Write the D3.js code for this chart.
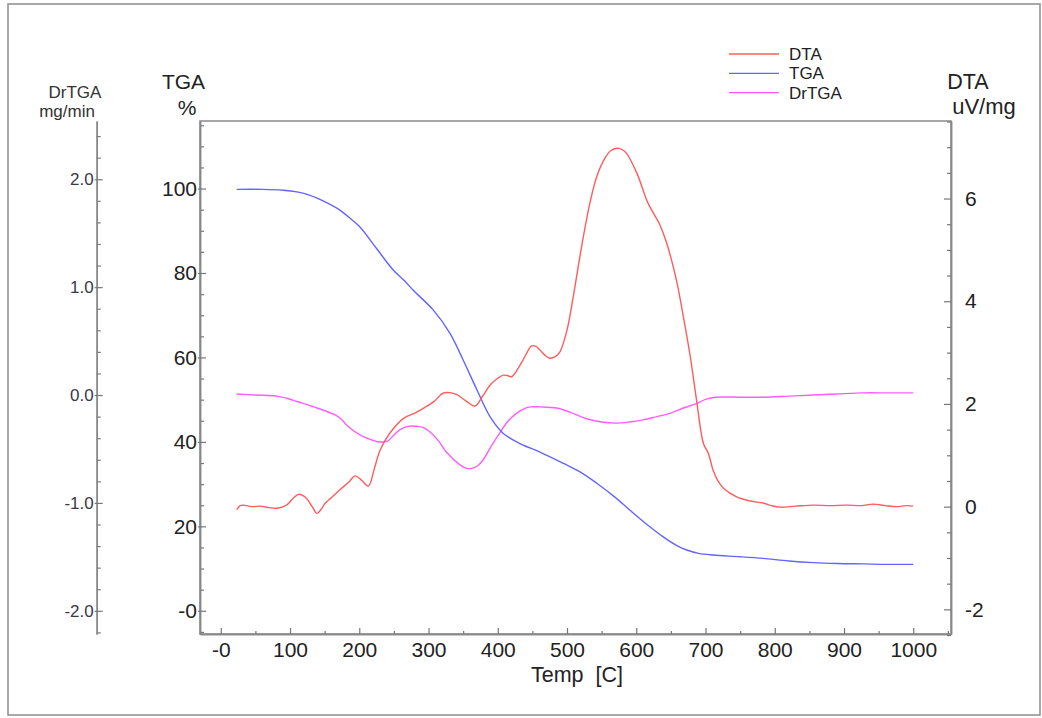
<!DOCTYPE html>
<html>
<head>
<meta charset="utf-8">
<script src="https://cdnjs.cloudflare.com/ajax/libs/d3/7.8.5/d3.min.js"></script>
<style>
    body { margin: 0; background: #fff; }
    text { font-family: 'Liberation Sans', Arial, sans-serif; }
</style>
</head>
<body>
<script>
// Thermal analysis readings, [temp C, value]
const dtaData = [
    [23, -0.06], [28, 0.02], [33, 0.03], [45, 0.0], [57, 0.01], [70, -0.02], [81, -0.03],
    [95, 0.03], [105, 0.17], [112, 0.24], [118, 0.22], [124, 0.16], [132, 0.0], [139, -0.13],
    [145, -0.05], [151, 0.07], [160, 0.18], [172, 0.33], [185, 0.48], [194, 0.60], [203, 0.52],
    [213, 0.40], [222, 0.75], [230, 1.10], [244, 1.43], [264, 1.72], [280, 1.82], [293, 1.92],
    [308, 2.05], [321, 2.21], [331, 2.22], [341, 2.18], [355, 2.05], [367, 1.96], [378, 2.15],
    [389, 2.37], [400, 2.50], [408, 2.56], [415, 2.55], [420, 2.53], [435, 2.82], [449, 3.13],
    [455, 3.12], [461, 3.05], [468, 2.95], [475, 2.89], [483, 2.92], [490, 3.02], [500, 3.44],
    [509, 4.09], [521, 5.06], [533, 5.91], [543, 6.43], [555, 6.79], [563, 6.93], [572, 6.98],
    [580, 6.95], [586, 6.88], [601, 6.49], [617, 5.91], [634, 5.49], [644, 5.13], [658, 4.41],
    [668, 3.70], [678, 2.92], [687, 2.08], [697, 1.23], [704, 1.04], [711, 0.71], [718, 0.50],
    [726, 0.36], [745, 0.19], [765, 0.11], [783, 0.07], [795, 0.02], [808, -0.01], [830, 0.01],
    [856, 0.03], [880, 0.02], [904, 0.03], [925, 0.02], [942, 0.05], [960, 0.02], [976, 0.0],
    [990, 0.02], [1000, 0.01]
];

const tgaData = [
    [23, 99.8], [60, 99.8], [90, 99.6], [110, 99.2], [129, 98.4], [150, 96.9], [172, 94.9],
    [190, 92.5], [201, 90.9], [225, 85.8], [249, 80.7], [265, 78.2], [278, 75.9], [307, 71.2],
    [331, 65.7], [350, 59.4], [370, 52.3], [389, 45.9], [408, 42.0], [432, 39.6], [461, 37.6],
    [495, 34.9], [520, 32.8], [543, 30.2], [570, 26.8], [591, 23.8], [615, 20.5], [639, 17.5],
    [660, 15.3], [673, 14.4], [690, 13.6], [711, 13.2], [750, 12.8], [783, 12.4], [820, 11.8],
    [856, 11.4], [890, 11.2], [928, 11.1], [960, 11.0], [1000, 11.0]
];

const drtgaData = [
    [23, 0.01], [50, 0.0], [81, -0.01], [95, -0.03], [110, -0.06], [139, -0.12], [167, -0.19],
    [175, -0.23], [182, -0.28], [201, -0.37], [215, -0.41], [225, -0.43], [240, -0.43],
    [250, -0.37], [259, -0.32], [270, -0.29], [283, -0.29], [292, -0.30], [302, -0.34],
    [315, -0.43], [326, -0.53], [346, -0.65], [355, -0.68], [362, -0.68], [370, -0.66],
    [379, -0.60], [390, -0.48], [403, -0.35], [415, -0.24], [427, -0.17], [437, -0.13],
    [447, -0.11], [461, -0.11], [485, -0.12], [505, -0.16], [528, -0.22], [550, -0.25],
    [572, -0.26], [590, -0.25], [610, -0.23], [630, -0.20], [649, -0.17], [668, -0.12],
    [687, -0.08], [700, -0.04], [716, -0.02], [750, -0.02], [783, -0.02], [820, -0.01],
    [856, 0.0], [890, 0.01], [928, 0.02], [960, 0.02], [1000, 0.02]
];

const tempTicks = [0, 100, 200, 300, 400, 500, 600, 700, 800, 900, 1000];
const tgaTicks = [0, 20, 40, 60, 80, 100];
const dtaTicks = [-2, 0, 2, 4, 6];
const drtgaTicks = [-2, -1, 0, 1, 2];

const series = [
    { name: 'DTA', color: '#ff5c5c' },
    { name: 'TGA', color: '#6464ff' },
    { name: 'DrTGA', color: '#ff5cff' }
];

(() => {
    const svg = d3.select('body').append('svg')
            .attr('width', 1042)
            .attr('height', 718);

    const left = 200, right = 951, top = 121, bottom = 634;

    // outer border
    svg.append('rect')
            .attr('x', 8).attr('y', 4)
            .attr('width', 1032).attr('height', 711)
            .attr('fill', 'none')
            .attr('stroke', '#8c8c8c')
            .attr('stroke-width', 1.5);

    const x = d3.scaleLinear().domain([-30, 1054.5]).range([left, right]);
    const yTga = d3.scaleLinear().domain([-5.5, 116]).range([bottom, top]);
    const yDta = d3.scaleLinear().domain([-2.48, 7.51]).range([bottom, top]);
    const yDr = d3.scaleLinear().domain([-2.215, 2.54]).range([bottom, top]);

    // frame
    svg.append('rect')
            .attr('x', left).attr('y', top)
            .attr('width', right - left).attr('height', bottom - top)
            .attr('fill', 'none')
            .attr('stroke', '#8a8a8a')
            .attr('stroke-width', 1.5);

    const styleAxis = (g, color) => {
        g.select('.domain').attr('stroke', '#888').attr('stroke-width', 1.5);
        g.selectAll('.tick line').attr('stroke', '#777').attr('stroke-width', 1.2);
        g.selectAll('.tick text').attr('fill', color).attr('font-size', 21);
    };

    const minorOf = (lo, hi, step, majors) =>
        d3.range(lo, hi + step / 2, step).filter(v => !majors.some(m => Math.abs(m - v) < 1e-6));

    // x axis
    svg.append('g')
            .attr('transform', `translate(0,${bottom})`)
            .call(d3.axisBottom(x).tickValues(minorOf(0, 1050, 50, tempTicks))
                    .tickSize(-3).tickSizeOuter(0).tickFormat(''))
            .call(g => styleAxis(g, '#222'));
    svg.append('g')
            .attr('transform', `translate(0,${bottom})`)
            .call(d3.axisBottom(x).tickValues(tempTicks)
                    .tickSize(-6).tickSizeOuter(0).tickPadding(8)
                    .tickFormat(d => d === 0 ? '-0' : String(d)))
            .call(g => styleAxis(g, '#222'));

    // TGA axis
    svg.append('g')
            .attr('transform', `translate(${left},0)`)
            .call(d3.axisLeft(yTga).tickValues(minorOf(-5, 115, 5, tgaTicks))
                    .tickSize(-4).tickSizeOuter(0).tickFormat(''))
            .call(g => styleAxis(g, '#222'));
    svg.append('g')
            .attr('transform', `translate(${left},0)`)
            .call(d3.axisLeft(yTga).tickValues(tgaTicks)
                    .tickSize(-6).tickSizeOuter(0).tickPadding(3)
                    .tickFormat(d => d === 0 ? '-0' : String(d)))
            .call(g => styleAxis(g, '#222'))
            .call(g => g.selectAll('.tick line').attr('x1', -2));

    // DrTGA axis
    const drX = 96.7;
    svg.append('g')
            .attr('transform', `translate(${drX},0)`)
            .call(d3.axisLeft(yDr).tickValues(minorOf(-2.2, 2.4, 0.2, drtgaTicks))
                    .tickSize(-4).tickSizeOuter(0).tickFormat(''))
            .call(g => styleAxis(g, '#333'));
    svg.append('g')
            .attr('transform', `translate(${drX},0)`)
            .call(d3.axisLeft(yDr).tickValues(drtgaTicks)
                    .tickSize(-6).tickSizeOuter(0).tickPadding(3)
                    .tickFormat(d => d.toFixed(1)))
            .call(g => styleAxis(g, '#383848'))
            .call(g => g.selectAll('.tick text').attr('font-size', 17))
            .call(g => g.selectAll('.tick line').attr('x1', -2));

    // DTA axis
    svg.append('g')
            .attr('transform', `translate(${right},0)`)
            .call(d3.axisRight(yDta).tickValues(minorOf(-2.5, 7.5, 0.5, dtaTicks))
                    .tickSize(-4).tickSizeOuter(0).tickFormat(''))
            .call(g => styleAxis(g, '#222'));
    svg.append('g')
            .attr('transform', `translate(${right},0)`)
            .call(d3.axisRight(yDta).tickValues(dtaTicks)
                    .tickSize(-7).tickSizeOuter(0).tickPadding(14)
                    .tickFormat(d => String(d)))
            .call(g => styleAxis(g, '#222'));

    // axis titles
    const title = (tx, ty, txt, size, color) => svg.append('text')
            .attr('x', tx).attr('y', ty)
            .attr('text-anchor', 'middle')
            .attr('font-size', size)
            .attr('fill', color || '#222')
            .style('white-space', 'pre')
            .text(txt);

    title(75, 98, 'DrTGA', 17, '#333');
    title(67, 116.5, 'mg/min', 17, '#333');
    title(183.5, 89, 'TGA', 21);
    title(187, 115, '%', 21);
    title(968, 89, 'DTA', 21.5);
    title(984, 113.5, 'uV/mg', 22);
    title(577, 682, 'Temp  [C]', 21.5);

    // curves
    svg.append('clipPath').attr('id', 'plot')
            .append('rect')
            .attr('x', left).attr('y', top)
            .attr('width', right - left).attr('height', bottom - top);

    const plot = svg.append('g').attr('clip-path', 'url(#plot)');
    const lineFor = yScale => d3.line()
            .x(d => x(d[0]))
            .y(d => yScale(d[1]))
            .curve(d3.curveCatmullRom.alpha(0.5));

    [[drtgaData, yDr, series[2]], [tgaData, yTga, series[1]], [dtaData, yDta, series[0]]]
            .forEach(([data, yScale, s]) => {
                plot.append('path')
                        .datum(data)
                        .attr('fill', 'none')
                        .attr('stroke', s.color)
                        .attr('stroke-width', 1.4)
                        .attr('d', lineFor(yScale));
            });

    // legend
    const legend = svg.append('g')
            .selectAll('g')
            .data(series)
            .enter().append('g')
            .attr('transform', (d, i) => `translate(729,${54 + i * 19.3})`);
    legend.append('line')
            .attr('x1', 0).attr('x2', 50)
            .attr('stroke', d => d.color)
            .attr('stroke-width', 1.3);
    legend.append('text')
            .attr('x', 60).attr('y', 6)
            .attr('font-size', 17)
            .attr('fill', '#222')
            .text(d => d.name);
})();
</script>
</body>
</html>
